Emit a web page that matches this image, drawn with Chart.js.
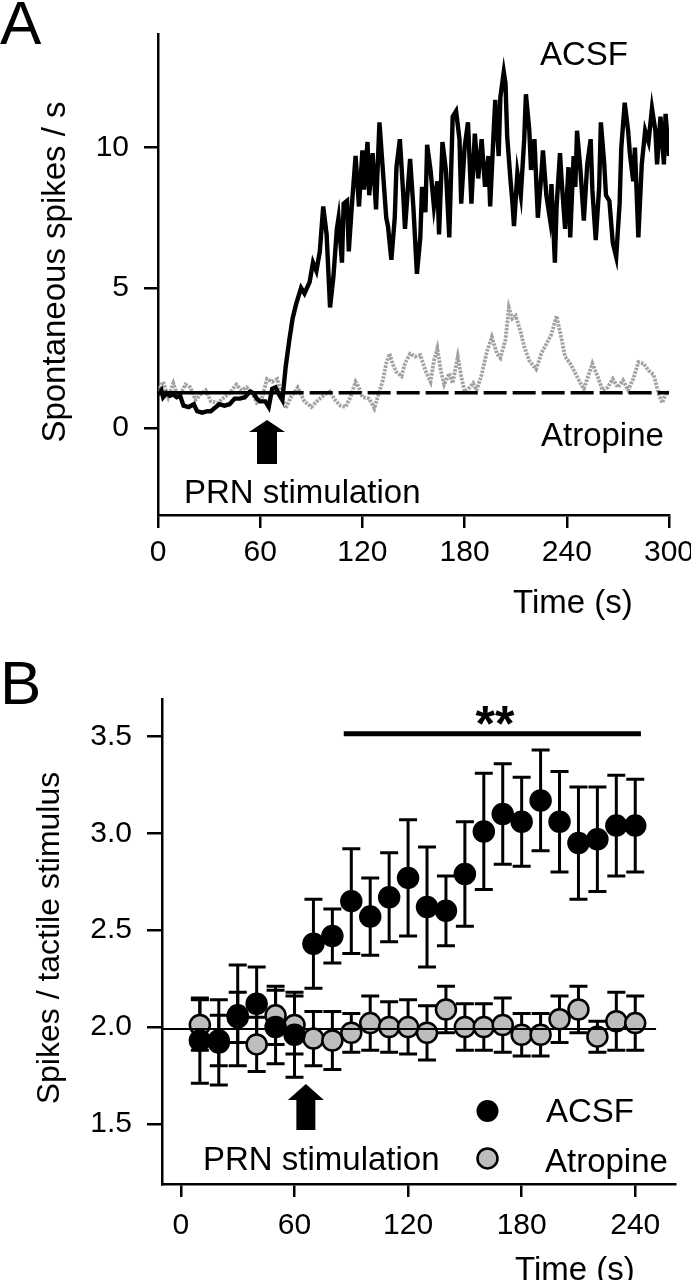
<!DOCTYPE html>
<html lang="en">
<head>
<meta charset="UTF-8">
<title>PRN stimulation</title>
<script src="https://cdn.jsdelivr.net/npm/chart.js@4.4.0/dist/chart.umd.min.js"></script>
<style>
  body { margin: 0; background: #fff; }
  canvas { position: absolute; left: 0; }
</style>
</head>
<body>
<canvas id="chartA" width="691" height="640" style="top:0"></canvas>
<canvas id="chartB" width="691" height="640" style="top:640px"></canvas>
<script>
// ---- panel A : spontaneous firing trace ----
const acsfTime = [0,2,3,5,7,9,11,13,15,18,21,23,26,29,31,33,36,39,42,45,48,51,54,56,58,60,63,65,67,69,71,73,75,77,79,81,84,86,89,91,93,95,97,99,101,103,105,106,108,109,111,112,114,116,118,120,121,123,124,126,128,130,132,134,135,137,139,140,142,144,145,147,148,150,152,154,155,157,158,160,162,164,165,167,169,171,173,175,177,178,180,182,184,186,188,190,192,194,195,197,198,200,201,203,204,205,207,208,209,211,213,215,216,218,219,221,223,225,226,228,230,231,233,234,236,237,239,241,242,244,245,246,248,250,252,254,255,257,259,260,262,263,265,267,269,271,272,274,276,277,279,280,281,282,284,286,288,290,292,293,295,297,298,300];
const acsfRate = [1.2,1.35,1.1,1.25,1.15,1.2,1.1,1.15,0.8,0.75,0.85,0.6,0.55,0.6,0.6,0.7,0.85,0.8,0.85,1.05,1.05,1.1,1.3,1.25,1.05,0.95,0.95,0.75,1.4,1.45,1.2,1.0,2.2,3.1,3.9,4.4,5.0,4.8,5.2,5.9,5.6,6.3,7.9,6.9,4.3,5.4,7.1,7.5,5.9,8.0,8.1,6.3,8.1,9.7,7.9,9.9,8.5,10.2,8.3,9.8,7.8,10.9,9.2,7.5,7.2,6.0,7.5,9.3,10.3,8.3,7.1,8.8,9.6,7.8,5.5,6.8,8.6,7.7,10.1,9.2,7.9,8.8,6.9,10.2,9.2,6.8,11.1,11.3,10.3,8.0,10.0,10.9,8.0,10.5,8.9,10.3,8.6,9.7,7.9,10.5,11.7,9.7,11.8,12.7,12.3,10.4,8.8,8.1,7.2,9.1,8.3,10.3,11.9,10.6,9.2,10.3,7.5,9.0,9.9,8.3,7.5,8.7,5.9,7.9,9.8,8.8,7.1,9.3,6.8,9.7,8.6,10.6,9.2,7.4,9.4,10.3,8.5,6.7,8.6,10.9,9.4,8.3,8.1,6.6,6.1,8.0,10.0,11.6,10.6,9.8,8.8,10.0,8.4,6.8,9.4,10.6,10.2,11.4,10.6,9.4,11.1,9.4,11.2,9.7];

const atroTime = [0,3,6,9,12,16,19,22,25,28,31,35,39,42,46,49,52,55,58,61,64,67,70,73,75,78,82,86,90,94,98,101,104,107,110,113,116,118,120,124,127,129,132,134,136,138,140,143,145,148,151,154,157,160,162,164,166,168,171,173,176,178,180,183,185,187,190,193,196,199,201,204,206,208,210,213,215,218,222,225,228,231,234,237,239,242,245,248,250,252,255,258,261,264,267,270,273,276,279,282,285,288,291,294,296,298,300];
const atroRate = [1.3,1.65,1.1,1.6,1.05,1.55,1.45,1.0,1.2,1.35,0.95,0.9,1.1,1.25,1.55,1.35,1.45,1.3,0.9,1.05,1.75,1.65,1.75,1.1,0.7,1.1,1.45,0.95,0.75,1.0,1.2,1.3,1.0,0.8,0.75,1.1,1.65,1.45,1.1,1.05,0.7,1.1,1.7,2.3,2.65,2.25,2.0,1.85,2.3,2.65,2.55,2.6,2.05,1.65,2.4,2.85,2.05,1.55,1.95,1.6,2.55,1.85,1.3,1.45,1.6,1.35,1.9,2.7,3.25,2.65,2.5,3.15,4.3,3.9,4.0,3.4,2.9,2.4,2.1,2.65,3.0,3.35,4.0,3.15,2.55,2.3,1.95,1.6,1.4,1.75,2.3,1.85,1.35,1.45,1.75,1.45,1.7,1.35,1.75,2.35,2.3,2.05,1.9,1.2,0.9,1.2,1.3];

const baseTime = [0, 72, 300];
const baseRate = 1.26;
const xTicksA = [0, 60, 120, 180, 240, 300];
const yTicksA = [0, 5, 10];

// ---- panel B : responses to tactile stimulus ----
const binTime = [10,20,30,40,50,60,70,80,90,100,110,120,130,140,150,160,170,180,190,200,210,220,230,240];
const acsfMean = [1.93,1.92,2.06,2.12,2.00,1.96,2.43,2.47,2.65,2.57,2.67,2.77,2.62,2.60,2.79,3.01,3.10,3.06,3.17,3.06,2.95,2.97,3.04,3.04];
const acsfSem  = [0.22,0.22,0.26,0.19,0.19,0.22,0.23,0.14,0.27,0.20,0.23,0.30,0.31,0.18,0.27,0.30,0.26,0.23,0.26,0.26,0.29,0.27,0.26,0.24];
const atroMean = [2.01,1.93,2.05,1.91,2.06,2.01,1.94,1.93,1.97,2.02,2.00,2.00,1.97,2.09,2.00,2.00,2.01,1.96,1.96,2.04,2.09,1.95,2.03,2.02];
const atroSem  = [0.13,0.13,0.13,0.14,0.15,0.15,0.14,0.15,0.10,0.14,0.13,0.14,0.14,0.12,0.12,0.12,0.14,0.11,0.11,0.12,0.12,0.08,0.15,0.14];
const refTime = [-10, 251];
const refLevel = 1.99;
const sigSpan = [86, 243];
const sigLevel = 3.515;
const xTicksB = [0, 60, 120, 180, 240];
const yTicksB = [1.5, 2.0, 2.5, 3.0, 3.5];

const FONT = "'Liberation Sans', Arial, sans-serif";

function pts(xs, ys) {
  return xs.map((x, i) => ({ x: x, y: Array.isArray(ys) ? ys[i] : ys }));
}

function write(ctx, str, x, y, size, align, weight) {
  ctx.font = (weight || '') + ' ' + size + 'px ' + FONT;
  ctx.textAlign = align || 'left';
  ctx.textBaseline = 'alphabetic';
  ctx.fillText(str, x, y);
}

function writeVertical(ctx, str, cx, cy, size) {
  ctx.save();
  ctx.translate(cx, cy);
  ctx.rotate(-Math.PI / 2);
  ctx.font = size + 'px ' + FONT;
  ctx.textAlign = 'center';
  ctx.textBaseline = 'middle';
  ctx.fillText(str, 0, 0);
  ctx.restore();
}

// block arrow pointing up
function arrow(ctx, cx, tip, neck, foot, headW, shaftW) {
  ctx.beginPath();
  ctx.moveTo(cx, tip);
  ctx.lineTo(cx + headW / 2, neck);
  ctx.lineTo(cx + shaftW / 2, neck);
  ctx.lineTo(cx + shaftW / 2, foot);
  ctx.lineTo(cx - shaftW / 2, foot);
  ctx.lineTo(cx - shaftW / 2, neck);
  ctx.lineTo(cx - headW / 2, neck);
  ctx.closePath();
  ctx.fill();
}

function axisStyle(tickLen, pad) {
  return {
    border: { display: true, color: '#000', width: 2.5 },
    grid: { drawOnChartArea: false, drawTicks: true, color: '#000', lineWidth: 2.5, tickLength: tickLen },
    ticks: { color: '#000', font: { family: FONT, size: 30 }, padding: pad, maxRotation: 0, autoSkip: false }
  };
}

const textA = {
  id: 'textA',
  afterDraw(chart) {
    const ctx = chart.ctx, xs = chart.scales.x;
    ctx.save();
    ctx.fillStyle = '#000';
    write(ctx, 'A', 0, 44, 62);
    writeVertical(ctx, 'Spontaneous spikes / s', 56, 272, 33);
    write(ctx, 'ACSF', 540, 65, 33);
    write(ctx, 'Atropine', 541, 446, 33);
    write(ctx, 'PRN stimulation', 184, 503, 33);
    write(ctx, 'Time (s)', 513, 613, 33);
    arrow(ctx, xs.getPixelForValue(64), 420, 432, 464, 36, 20);
    ctx.restore();
  }
};

const extrasB = {
  id: 'extrasB',
  beforeDatasetsDraw(chart) {
    const ctx = chart.ctx, xs = chart.scales.x, ys = chart.scales.y;
    ctx.save();
    ctx.strokeStyle = '#000';
    ctx.lineWidth = 3;
    const bars = (mean, sem) => binTime.forEach((t, i) => {
      const x = xs.getPixelForValue(t);
      const top = ys.getPixelForValue(mean[i] + sem[i]);
      const bot = ys.getPixelForValue(mean[i] - sem[i]);
      ctx.beginPath();
      ctx.moveTo(x, top); ctx.lineTo(x, bot);
      ctx.moveTo(x - 9, top); ctx.lineTo(x + 9, top);
      ctx.moveTo(x - 9, bot); ctx.lineTo(x + 9, bot);
      ctx.stroke();
    });
    bars(atroMean, atroSem);
    bars(acsfMean, acsfSem);
    ctx.restore();
  },
  afterDraw(chart) {
    const ctx = chart.ctx, xs = chart.scales.x, ys = chart.scales.y;
    ctx.save();
    ctx.fillStyle = '#000';
    ctx.strokeStyle = '#000';
    // significance bar
    ctx.lineWidth = 5;
    ctx.beginPath();
    ctx.moveTo(xs.getPixelForValue(sigSpan[0]), ys.getPixelForValue(sigLevel));
    ctx.lineTo(xs.getPixelForValue(sigSpan[1]), ys.getPixelForValue(sigLevel));
    ctx.stroke();
    write(ctx, '**', 495, 101, 50, 'center', 'bold');
    write(ctx, 'B', 0, 64, 62);
    writeVertical(ctx, 'Spikes / tactile stimulus', 50, 298, 32);
    write(ctx, 'PRN stimulation', 203, 530, 33);
    write(ctx, 'Time (s)', 515, 640, 33);
    arrow(ctx, xs.getPixelForValue(66), 444, 460, 490, 36, 19);
    // legend
    ctx.lineWidth = 2.5;
    ctx.beginPath(); ctx.arc(487.5, 471, 11, 0, Math.PI * 2); ctx.fill();
    ctx.fillStyle = '#bdbdbd';
    ctx.beginPath(); ctx.arc(487.5, 518.4, 10, 0, Math.PI * 2); ctx.fill(); ctx.stroke();
    ctx.fillStyle = '#000';
    write(ctx, 'ACSF', 546, 482, 33);
    write(ctx, 'Atropine', 545, 532, 33);
    ctx.restore();
  }
};

const ax = axisStyle(13, 7), ayA = axisStyle(14, 15);
new Chart(document.getElementById('chartA'), {
  type: 'line',
  data: {
    datasets: [
      { label: 'ACSF', data: pts(acsfTime, acsfRate), borderColor: '#000', borderWidth: 4.4, pointRadius: 0, order: 0 },
      { label: 'baseline', data: pts(baseTime, baseRate), borderColor: '#000', borderWidth: 3.4, pointRadius: 0, order: 1,
        segment: { borderDash: c => c.p0DataIndex > 0 ? [23, 6] : [] } },
      { label: 'Atropine', data: pts(atroTime, atroRate), borderColor: '#a2a2a2', borderWidth: 3.8, borderDash: [2.5, 1.2], pointRadius: 0, order: 2 }
    ]
  },
  options: {
    responsive: false, animation: false, devicePixelRatio: 1,
    layout: { padding: { top: 34, right: 22, bottom: 0, left: 0 } },
    plugins: { legend: { display: false }, tooltip: { enabled: false } },
    scales: {
      x: Object.assign({}, ax, {
        type: 'linear', min: 0, max: 300,
        afterBuildTicks: s => { s.ticks = xTicksA.map(v => ({ value: v })); },
        afterFit: s => { s.height = 125; s.paddingLeft = 0; s.paddingRight = 0; }
      }),
      y: Object.assign({}, ayA, {
        min: -3.1, max: 14.05,
        afterBuildTicks: s => { s.ticks = yTicksA.map(v => ({ value: v })); },
        afterFit: s => { s.width = 158; s.paddingTop = 0; s.paddingBottom = 0; }
      })
    }
  },
  plugins: [textA]
});

const bx = axisStyle(13, 11), byB = axisStyle(15, 15);
new Chart(document.getElementById('chartB'), {
  type: 'scatter',
  data: {
    datasets: [
      { type: 'line', label: 'ref', data: pts(refTime, refLevel), borderColor: '#000', borderWidth: 2, pointRadius: 0, order: -1 },
      { label: 'ACSF', data: pts(binTime, acsfMean), backgroundColor: '#000', borderColor: '#000', borderWidth: 1.5, pointRadius: 10.5, order: 0 },
      { label: 'Atropine', data: pts(binTime, atroMean), backgroundColor: '#bdbdbd', borderColor: '#000', borderWidth: 2.5, pointRadius: 10, order: 1 }
    ]
  },
  options: {
    responsive: false, animation: false, devicePixelRatio: 1,
    layout: { padding: { top: 59, right: 16, bottom: 0, left: 0 } },
    plugins: { legend: { display: false }, tooltip: { enabled: false } },
    scales: {
      x: Object.assign({}, bx, {
        type: 'linear', min: -10, max: 261,
        afterBuildTicks: s => { s.ticks = xTicksB.map(v => ({ value: v })); },
        afterFit: s => { s.height = 96; s.paddingLeft = 0; s.paddingRight = 0; }
      }),
      y: Object.assign({}, byB, {
        min: 1.189, max: 3.694,
        afterBuildTicks: s => { s.ticks = yTicksB.map(v => ({ value: v })); },
        ticks: Object.assign({}, byB.ticks, { callback: v => v.toFixed(1) }),
        afterFit: s => { s.width = 162; s.paddingTop = 0; s.paddingBottom = 0; }
      })
    }
  },
  plugins: [extrasB]
});
</script>
</body>
</html>
